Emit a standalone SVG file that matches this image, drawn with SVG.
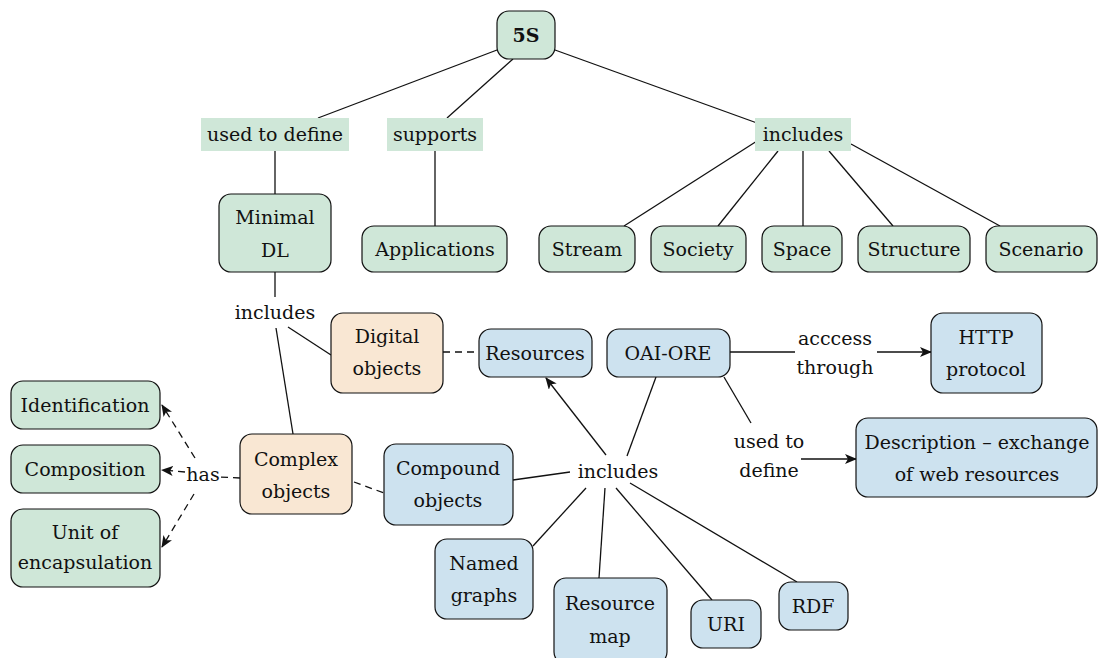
<svg xmlns="http://www.w3.org/2000/svg" width="1102" height="658" viewBox="0 0 1102 658">
<defs>
<style>
text{font-family:'DejaVu Serif','Liberation Serif',serif;font-size:19px;fill:#111;text-anchor:middle;dominant-baseline:central}
.g{fill:#cfe7d8;stroke:#111;stroke-width:1.2}
.o{fill:#f9e7d3;stroke:#111;stroke-width:1.2}
.b{fill:#cde2ef;stroke:#111;stroke-width:1.2}
.lb{fill:#cfe7d8;stroke:none}
.c{stroke:#111;stroke-width:1.3;fill:none}
.d{stroke-dasharray:7,5}
.a{marker-end:url(#ah)}
</style>
<marker id="ah" viewBox="0 0 12 10" refX="11" refY="5" markerWidth="12" markerHeight="10" markerUnits="userSpaceOnUse" orient="auto">
<path d="M0,0 L12,5 L0,10 L3,5 z" fill="#111"/>
</marker>
</defs>
<rect width="1102" height="658" fill="#fff"/>
<g id="connectors">
<path class="c" d="M497,50 L318,118"/>
<path class="c" d="M513,59 L447,118"/>
<path class="c" d="M555,50 L757,123"/>
<path class="c" d="M275,151 L275,194"/>
<path class="c" d="M435,151 L435,226"/>
<path class="c" d="M757,141 L624,226"/>
<path class="c" d="M778,151 L718,226"/>
<path class="c" d="M803,151 L803,226"/>
<path class="c" d="M829,151 L893,226"/>
<path class="c" d="M851,144 L1000,226"/>
<path class="c" d="M275,272 L275,297"/>
<path class="c" d="M288,327 L331,355"/>
<path class="c" d="M276,328 L293,434"/>
<path class="c d" d="M443,352 L479,352"/>
<path class="c d" d="M354,482 L384,493"/>
<path class="c" d="M513,480 L570,472"/>
<path class="c a" d="M606,455 L546,378"/>
<path class="c" d="M656,377 L627,456"/>
<path class="c" d="M586,488 L533,546"/>
<path class="c" d="M605,488 L599,578"/>
<path class="c" d="M616,488 L712,600"/>
<path class="c" d="M630,483 L797,582"/>
<path class="c" d="M730,352 L795,352"/>
<path class="c a" d="M877,352 L931,352"/>
<path class="c" d="M724,377 L751,423"/>
<path class="c a" d="M801,459 L856,459"/>
<path class="c d" d="M240,478 L219,477"/>
<path class="c d a" d="M195,458 L162,405"/>
<path class="c d a" d="M185,472 L162,470"/>
<path class="c d a" d="M194,494 L162,547"/>
</g>
<g id="n5S"><rect class="g" x="497" y="11" width="58" height="48" rx="12"/><text x="526" y="35" font-weight="bold">5S</text></g>
<g id="lUsedToDefine"><rect class="lb" x="201" y="118" width="148" height="33"/><text x="275" y="134">used to define</text></g>
<g id="lSupports"><rect class="lb" x="387" y="118" width="96" height="33"/><text x="435" y="134">supports</text></g>
<g id="lIncludesTop"><rect class="lb" x="755" y="118" width="96" height="33"/><text x="803" y="134">includes</text></g>
<g id="nMinimalDL"><rect class="g" x="219" y="194" width="112" height="78" rx="12"/><text x="275" y="217">Minimal</text><text x="275" y="250">DL</text></g>
<g id="nApplications"><rect class="g" x="362" y="226" width="145" height="46" rx="12"/><text x="435" y="249">Applications</text></g>
<g id="nStream"><rect class="g" x="539" y="226" width="96" height="46" rx="12"/><text x="587" y="249">Stream</text></g>
<g id="nSociety"><rect class="g" x="651" y="226" width="95" height="46" rx="12"/><text x="698" y="249">Society</text></g>
<g id="nSpace"><rect class="g" x="762" y="226" width="80" height="46" rx="12"/><text x="802" y="249">Space</text></g>
<g id="nStructure"><rect class="g" x="858" y="226" width="112" height="46" rx="12"/><text x="914" y="249">Structure</text></g>
<g id="nScenario"><rect class="g" x="986" y="226" width="111" height="46" rx="12"/><text x="1041" y="249">Scenario</text></g>
<g id="lIncludesDL"><text x="275" y="312">includes</text></g>
<g id="nDigital"><rect class="o" x="331" y="313" width="112" height="80" rx="12"/><text x="387" y="336">Digital</text><text x="387" y="368">objects</text></g>
<g id="nResources"><rect class="b" x="479" y="329" width="113" height="48" rx="12"/><text x="535" y="353">Resources</text></g>
<g id="nOAIORE"><rect class="b" x="607" y="329" width="123" height="48" rx="12"/><text x="668" y="353">OAI-ORE</text></g>
<g id="lAccess"><text x="835" y="338">acccess</text><text x="835" y="367">through</text></g>
<g id="nHTTP"><rect class="b" x="931" y="313" width="111" height="80" rx="12"/><text x="986" y="337">HTTP</text><text x="986" y="369">protocol</text></g>
<g id="lUsedTo"><text x="769" y="441">used to</text><text x="769" y="470">define</text></g>
<g id="nDescription"><rect class="b" x="856" y="418" width="241" height="79" rx="12"/><text x="977" y="442">Description – exchange</text><text x="977" y="474">of web resources</text></g>
<g id="nIdentification"><rect class="g" x="11" y="381" width="149" height="48" rx="12"/><text x="85" y="405">Identification</text></g>
<g id="nComposition"><rect class="g" x="11" y="445" width="149" height="48" rx="12"/><text x="85" y="469">Composition</text></g>
<g id="nUnit"><rect class="g" x="11" y="509" width="149" height="78" rx="12"/><text x="85" y="532">Unit of</text><text x="85" y="562">encapsulation</text></g>
<g id="lHas"><text x="203" y="474">has</text></g>
<g id="nComplex"><rect class="o" x="240" y="434" width="112" height="80" rx="12"/><text x="296" y="459">Complex</text><text x="296" y="491">objects</text></g>
<g id="nCompound"><rect class="b" x="384" y="444" width="129" height="81" rx="12"/><text x="448" y="468">Compound</text><text x="448" y="500">objects</text></g>
<g id="lIncludesORE"><text x="618" y="471">includes</text></g>
<g id="nNamed"><rect class="b" x="435" y="539" width="98" height="80" rx="12"/><text x="484" y="563">Named</text><text x="484" y="595">graphs</text></g>
<g id="nResourceMap"><rect class="b" x="554" y="578" width="113" height="86" rx="12"/><text x="610" y="603">Resource</text><text x="610" y="636">map</text></g>
<g id="nURI"><rect class="b" x="691" y="600" width="70" height="48" rx="12"/><text x="726" y="624">URI</text></g>
<g id="nRDF"><rect class="b" x="779" y="582" width="69" height="48" rx="12"/><text x="813" y="606">RDF</text></g>
</svg>
